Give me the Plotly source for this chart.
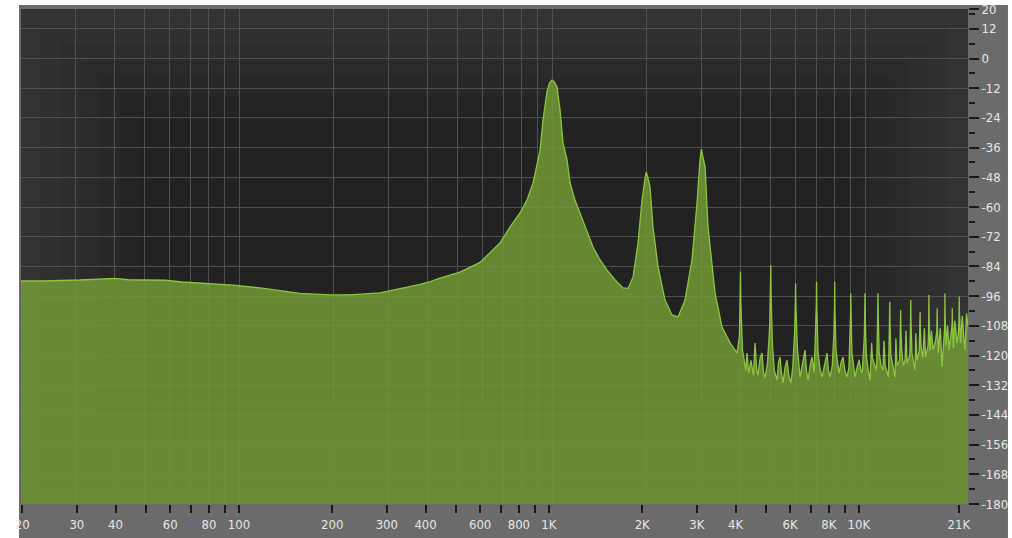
import plotly.graph_objects as go

# ---- data (frequency in Hz, level in dB) ----
freq_low = [20.1, 23.6, 31.0, 40.2, 44.2, 58.0, 65.7, 79.6, 95.7, 116.7, 156.6, 195.3,
            226, 282, 327, 379, 408, 439, 508, 589]
db_low = [-89.9, -89.9, -89.5, -88.8, -89.4, -89.6, -90.3, -90.9, -91.6, -92.7, -94.9, -95.5,
          -95.5, -94.7, -93.1, -91.3, -90.1, -88.7, -86.3, -82.4]

freq_harm = [682, 734, 790, 832, 870, 916, 936, 964, 982, 1000, 1018, 1037, 1061, 1084, 1117,
             1142, 1184, 1229, 1294, 1352, 1424, 1499, 1590, 1686, 1749, 1815, 1883, 1939,
             1982, 2000, 2025, 2056, 2102, 2182, 2296, 2417, 2527, 2660, 2800, 2906, 2970,
             3000, 3030, 3083, 3151, 3317, 3493, 3706, 3845]
db_harm = [-74.5, -68.1, -62.4, -57.2, -50.3, -37.0, -24.8, -13.5, -9.8, -8.7, -9.5, -11.5,
           -20.8, -34.1, -41.0, -50.3, -57.2, -62.4, -69.3, -76.2, -81.4, -85.5, -89.5, -92.7,
           -92.9, -88.3, -74.5, -57.2, -48.5, -45.8, -48.2, -51.9, -68.1, -84.2, -97.6, -103.6,
           -104.4, -97.6, -81.4, -58.4, -41.0, -36.6, -39.5, -43.8, -68.1, -94.7, -108.5,
           -114.9, -117.8]

freq_noise = [
    3900, 3970, 3990, 4000, 4012, 4060, 4100, 4160, 4198, 4250, 4320, 4400, 4453, 4510, 4550,
    4620, 4688, 4740, 4792, 4880,
    4960, 4990, 5000, 5012, 5060, 5130, 5235, 5290, 5351, 5410, 5470, 5550, 5632, 5710, 5800, 5880,
    5960, 5990, 6000, 6015, 6080, 6200, 6300, 6433, 6500, 6577, 6680, 6770, 6880,
    6960, 6990, 7000, 7015, 7080, 7180, 7289, 7420, 7562, 7640, 7727, 7860,
    7960, 7990, 8000, 8015, 8080, 8180, 8260, 8380, 8505, 8620, 8760, 8880,
    8960, 8990, 9000, 9015, 9080, 9190, 9290, 9420, 9570, 9700, 9800,
    9950, 9990, 10000, 10020, 10100, 10240, 10375, 10500, 10560, 10690, 10880,
    10950, 10990, 11000, 11020, 11100, 11250, 11415, 11500, 11600, 11880,
    11950, 11990, 12000, 12020, 12100, 12300, 12470, 12550, 12650, 12900,
    12960, 12990, 13000, 13020, 13100, 13250, 13430, 13520, 13620, 13900,
    13960, 13990, 14000, 14025, 14120, 14300, 14450, 14530, 14650, 14900,
    14960, 14990, 15000, 15025, 15120, 15300, 15480, 15600, 15900,
    15960, 15990, 16000, 16025, 16120, 16300, 16490, 16800,
    16960, 16990, 17000, 17030, 17150, 17400, 17620, 17850,
    17960, 17990, 18000, 18030, 18150, 18350, 18550, 18800,
    18960, 18990, 19000, 19030, 19150, 19350, 19680, 19850,
    19960, 19990, 20000, 20030, 20200, 20450, 20700, 20870, 21100, 21330]
db_noise = [
    -119.0, -112.0, -97.0, -86.1, -99.0, -118.0, -121.0, -126.0, -119.0, -127.0, -122.0, -128.0,
    -115.0, -126.0, -128.0, -121.0, -119.0, -127.0, -129.0, -123.0,
    -108.0, -94.0, -83.4, -96.0, -116.0, -126.0, -129.9, -123.0, -120.6, -127.0, -131.1, -125.0,
    -121.8, -128.0, -131.1, -124.0,
    -110.0, -99.0, -90.8, -100.0, -117.0, -128.7, -124.0, -117.8, -126.0, -129.9, -124.0, -120.6,
    -127.0,
    -111.0, -99.0, -90.2, -101.0, -119.0, -125.0, -128.7, -124.0, -119.0, -126.0, -128.7, -124.0,
    -110.0, -99.0, -90.2, -102.0, -118.0, -124.0, -127.1, -123.0, -120.6, -126.0, -128.7, -125.0,
    -112.0, -103.0, -94.9, -104.0, -119.0, -124.0, -128.7, -125.0, -121.8, -126.0, -127.0,
    -112.0, -103.0, -94.9, -105.0, -120.0, -126.0, -129.9, -115.0, -121.0, -123.0, -126.0,
    -111.0, -103.0, -94.9, -104.0, -119.0, -124.0, -125.9, -114.0, -124.0, -128.7,
    -113.0, -106.0, -98.3, -107.0, -120.0, -125.0, -128.7, -113.0, -124.0, -122.0,
    -112.0, -108.0, -101.6, -109.0, -118.0, -124.0, -121.8, -110.0, -123.0, -120.0,
    -111.0, -105.0, -97.6, -106.0, -119.0, -123.0, -125.9, -111.0, -122.0, -118.0,
    -112.0, -108.0, -102.3, -110.0, -117.0, -121.0, -109.0, -120.6, -116.0,
    -110.0, -103.0, -95.6, -105.0, -118.0, -110.0, -117.8, -114.0,
    -110.0, -106.0, -100.9, -108.0, -119.0, -109.0, -124.6, -116.0,
    -109.0, -102.0, -94.9, -104.0, -116.0, -108.0, -117.8, -112.0,
    -108.0, -105.0, -100.9, -107.0, -117.0, -106.0, -114.9, -112.0,
    -106.0, -101.0, -96.2, -103.0, -115.0, -104.0, -113.0, -117.8, -103.0, -108.5]

freq = freq_low + freq_harm + freq_noise
level = db_low + db_harm + db_noise

# ---- axis ticks ----
x_tick_vals = [20, 30, 40, 50, 60, 70, 80, 90, 100, 200, 300, 400, 500, 600, 700, 800, 900,
               1000, 2000, 3000, 4000, 5000, 6000, 7000, 8000, 9000, 10000, 21000]
x_tick_text = ["20", "30", "40", "", "60", "", "80", "", "100", "200", "300", "400", "", "600",
               "", "800", "", "1K", "2K", "3K", "4K", "", "6K", "", "8K", "", "10K", "21K"]
x_grid_vals = x_tick_vals[:-1]

y_tick_vals = [20, 12, 0, -12, -24, -36, -48, -60, -72, -84, -96, -108, -120, -132, -144,
               -156, -168, -180]
y_tick_text = [str(v) for v in y_tick_vals]
y_minor_vals = [18, 6, -6, -18, -30, -42, -54, -66, -78, -90, -102, -114, -126, -138, -150,
                -162, -174]

Y_MIN = y_tick_vals[-1]
Y_MAX = y_tick_vals[0]

FONT = "DejaVu Sans Condensed, Liberation Sans Narrow, sans-serif"
FRAME = "#6b6b6b"

fig = go.Figure()
# floor for the filled area
fig.add_trace(go.Scatter(x=[freq[0], freq[-1]], y=[Y_MIN, Y_MIN], mode="lines",
                         line=dict(width=0, color="rgba(0,0,0,0)"), hoverinfo="skip",
                         showlegend=False))
fig.add_trace(go.Scatter(x=freq, y=level, mode="lines", fill="tonexty",
                         fillcolor="rgba(114,154,54,0.86)",
                         line=dict(color="#8dc540", width=1.3), showlegend=False,
                         hoverinfo="skip"))
# carrier trace for the labelled frequency axis
fig.add_trace(go.Scatter(x=[x_tick_vals[0]], y=[None], xaxis="x2", mode="lines",
                         showlegend=False, hoverinfo="skip"))

white_strips = [
    dict(x0=-0.03, x1=-0.0021, y0=-0.1, y1=1.1),     # left
    dict(x0=-0.03, x1=1.1, y0=1.0081, y1=1.1),       # top
    dict(x0=1.0422, x1=1.1, y0=-0.1, y1=1.1),        # right
]
shapes = [dict(type="rect", xref="paper", yref="paper", fillcolor="white",
               line=dict(width=0), layer="below", **s) for s in white_strips]
# soft vignette on the dark screen: nested darkening layers towards the centre
for i in range(7):
    m = 0.035 * i
    shapes.append(dict(type="rect", xref="x domain", yref="y domain",
                       x0=m * 0.6, x1=1 - m * 0.6, y0=m, y1=1 - m,
                       fillcolor="rgba(0,0,0,0.055)", line=dict(width=0), layer="below"))

fig.update_layout(
    width=1012, height=538,
    margin=dict(l=21, r=44, t=9, b=34, pad=0),
    paper_bgcolor=FRAME,
    plot_bgcolor="#373737",
    showlegend=False,
    xaxis=dict(type="log", range=[1.3035, 4.329], tickmode="array", tickvals=x_grid_vals,
               showticklabels=False, ticks="", showgrid=True, gridcolor="#505050",
               gridwidth=1, zeroline=False, showline=False, automargin=False),
    xaxis2=dict(type="log", range=[1.297, 4.352], overlaying="x", anchor="y", side="bottom",
                tickmode="array", tickvals=x_tick_vals, ticktext=x_tick_text,
                ticks="outside", ticklen=8, tickwidth=2, tickcolor="#1a1a1a",
                showgrid=False, zeroline=False, showline=False, automargin=False,
                tickfont=dict(family=FONT, size=13, color="#e6e6e6")),
    yaxis=dict(range=[Y_MIN, Y_MAX], side="right", tickmode="array", tickvals=y_tick_vals,
               ticktext=y_tick_text, ticks="outside", ticklen=10, tickwidth=2,
               tickcolor="#1a1a1a", showgrid=True, gridcolor="#505050", gridwidth=1,
               zeroline=False, showline=False, automargin=False,
               tickfont=dict(family=FONT, size=13, color="#e6e6e6"),
               minor=dict(tickmode="array", tickvals=y_minor_vals, ticks="outside",
                          ticklen=6, tickwidth=2, tickcolor="#1a1a1a", showgrid=False)),
    shapes=shapes,
)

fig.write_html("out.html", config={"displayModeBar": False},
               post_script="document.body.style.margin='0';document.body.style.padding='0';")
